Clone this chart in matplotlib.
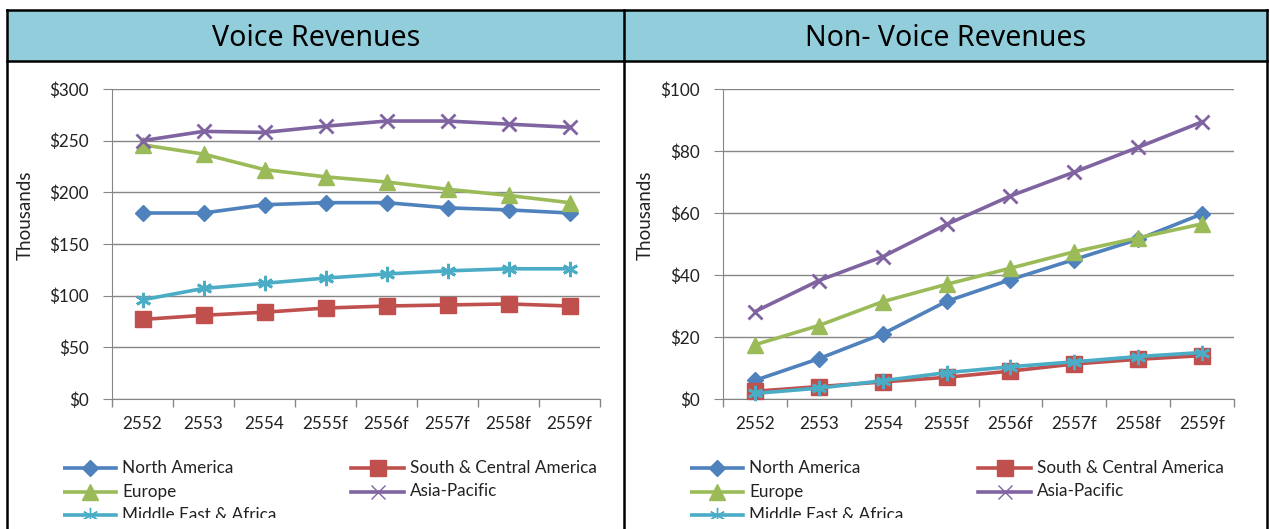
import matplotlib.pyplot as plt
from matplotlib.patches import Rectangle
from matplotlib.lines import Line2D

W, H = 1270, 529

years = ["2552", "2553", "2554", "2555f", "2556f", "2557f", "2558f", "2559f"]
regions = ["North America", "South & Central America", "Europe",
           "Asia-Pacific", "Middle East & Africa"]

# voice revenues (thousands)
voice_na = [180, 180, 188, 190, 190, 185, 183, 180]
voice_sca = [77, 81, 84, 88, 90, 91, 92, 90]
voice_eu = [246, 237, 222, 215, 210, 203, 197, 190]
voice_ap = [250, 259, 258, 264, 269, 269, 266, 263]
voice_mea = [96, 107, 112, 117, 121, 124, 126, 126]

# non-voice revenues (thousands)
nonvoice_na = [6, 13, 21, 31.5, 38.5, 45, 51.5, 59.7]
nonvoice_sca = [2.5, 4, 5.5, 7, 9, 11.3, 12.8, 14]
nonvoice_eu = [17.5, 23.7, 31.4, 37, 42.2, 47.5, 52, 56.5]
nonvoice_ap = [28.2, 38.2, 45.9, 56.3, 65.5, 73.2, 81.2, 89.4]
nonvoice_mea = [1.8, 3.5, 5.9, 8.5, 10.4, 12, 13.7, 15]

colors = ["#4F81BD", "#C0504D", "#9BBB59", "#8064A2", "#4BACC6"]
markers = ["D", "s", "^", "x", (6, 2, 0)]
msizes = [8, 11, 11, 10, 11]

FONT = "Lato"
SMALL = 12.3
plt.rcParams["font.family"] = FONT

fig = plt.figure(figsize=(W / 100, H / 100), dpi=100)


def fx(px):
    return px / W


def fy(py):
    return 1 - py / H


# table frame and header cells
fig.patches.append(Rectangle((fx(7), fy(61)), fx(1267) - fx(7), fy(10) - fy(61),
                             transform=fig.transFigure, facecolor="#92CDDC",
                             edgecolor="none", zorder=0))
border = dict(color="black", lw=1.8, transform=fig.transFigure)
fig.add_artist(Line2D([fx(7), fx(1267)], [fy(10), fy(10)], **border))
fig.add_artist(Line2D([fx(7), fx(1267)], [fy(61), fy(61)], **border))
for xb in [7, 624, 1267]:
    fig.add_artist(Line2D([fx(xb), fx(xb)], [fy(10), 0], **border))

fig.text(fx(316), fy(38), "Voice Revenues", ha="center", va="center",
         fontsize=20.5, family="Noto Sans", color="black")
fig.text(fx(946), fy(38), "Non- Voice Revenues", ha="center", va="center",
         fontsize=20.5, family="Noto Sans", color="black")


def draw_chart(rect, series, ymax, ystep, ylab_x, legend_x):
    ax = fig.add_axes(rect)
    x = list(range(len(years)))
    for vals, c, m, ms in zip(series, colors, markers, msizes):
        ax.plot(x, vals, color=c, lw=2.6, marker=m, markersize=ms,
                markeredgewidth=2 if m in ("x",) or isinstance(m, tuple) else 1,
                markeredgecolor=c, markerfacecolor=c, clip_on=False, zorder=3)
    ax.set_xlim(-0.5, len(years) - 0.5)
    ax.set_ylim(0, ymax)
    ax.set_yticks(range(0, ymax + 1, ystep))
    ax.set_yticklabels([f"${v}" for v in range(0, ymax + 1, ystep)])
    ax.set_xticks(x)
    ax.set_xticklabels(years)
    ax.set_xticks([i - 0.5 for i in range(len(years) + 1)], minor=True)
    ax.tick_params(axis="x", which="major", length=0, pad=12, labelsize=SMALL,
                   colors="#222222")
    ax.tick_params(axis="x", which="minor", length=6, direction="out",
                   color="#868686", width=1)
    ax.tick_params(axis="y", length=6.5, color="#868686", labelsize=SMALL,
                   labelcolor="#222222", pad=10)
    ax.grid(axis="y", color="#868686", lw=1)
    ax.set_axisbelow(True)
    for s in ["top", "right"]:
        ax.spines[s].set_visible(False)
    for s in ["left", "bottom"]:
        ax.spines[s].set_color("#868686")
    fig.text(fx(ylab_x), fy(215), "Thousands", rotation=90, ha="center",
             va="center", fontsize=13.5, color="#222222")

    # legend, clipped like the original
    lax = fig.add_axes([fx(legend_x), fy(518), fx(600), fy(445) - fy(518)])
    lax.set_xlim(0, 600)
    lax.set_ylim(73, 0)
    lax.axis("off")
    for i, (name, c, m, ms) in enumerate(zip(regions, colors, markers, msizes)):
        col, row = i % 2, i // 2
        x0 = 0 + col * 288
        y0 = 23 + row * 23.5
        lax.plot([x0, x0 + 53], [y0, y0], color=c, lw=2.6, clip_on=True)
        lax.plot([x0 + 26.5], [y0], marker=m, markersize=ms, color=c,
                 markeredgewidth=1, clip_on=True)
        lax.text(x0 + 59, y0, name, va="center", ha="left", fontsize=SMALL,
                 color="#222222", clip_on=True)
    return ax


voice = [voice_na, voice_sca, voice_eu, voice_ap, voice_mea]
nonvoice = [nonvoice_na, nonvoice_sca, nonvoice_eu, nonvoice_ap, nonvoice_mea]

draw_chart([fx(112), fy(399), fx(600) - fx(112), fy(89) - fy(399)],
           voice, 300, 50, 25, 63)
draw_chart([fx(723), fy(399), fx(1234) - fx(723), fy(89) - fy(399)],
           nonvoice, 100, 20, 645, 690)

fig.savefig("out.png", dpi=100)
